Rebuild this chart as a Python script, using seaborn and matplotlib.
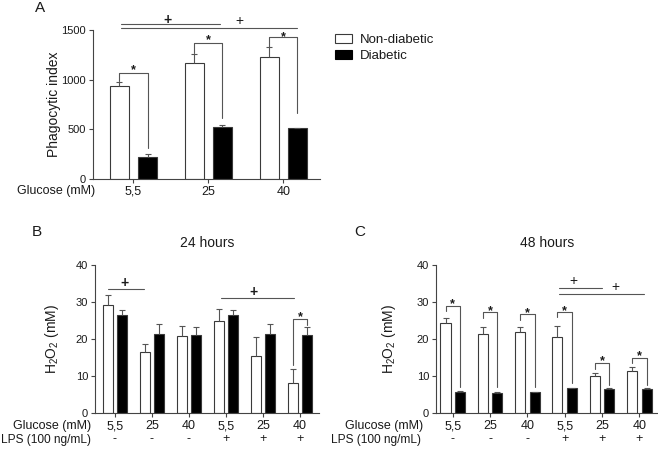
import matplotlib
matplotlib.use("Agg")
import matplotlib.pyplot as plt
import seaborn as sns
import pandas as pd
import numpy as np
from matplotlib.patches import Patch

sns.set_style("ticks")
plt.rcParams['font.family'] = ['Liberation Sans', 'DejaVu Sans']
plt.rcParams['mathtext.default'] = 'regular'

# --- data ---
groups = ["Non-diabetic", "Diabetic"]

# A: phagocytic index
glucose_a = ["5,5", "25", "40"]
phago_nd = [936, 1165, 1225]
phago_nd_err = [44, 93, 100]
phago_d = [225, 520, 516]
phago_d_err = [27, 20, 0]

# B / C: H2O2
glucose_bc = ["5,5", "25", "40", "5,5", "25", "40"]
lps = ["-", "-", "-", "+", "+", "+"]
h2o2_24_nd = [29.1, 16.6, 20.8, 24.9, 15.4, 8.3]
h2o2_24_nd_err = [2.9, 2.0, 2.8, 3.1, 5.3, 3.6]
h2o2_24_d = [26.4, 21.5, 21.2, 26.4, 21.5, 21.2]
h2o2_24_d_err = [1.5, 2.6, 2.0, 1.5, 2.6, 2.0]
h2o2_48_nd = [24.3, 21.5, 21.9, 20.5, 10.0, 11.4]
h2o2_48_nd_err = [1.5, 1.8, 1.4, 3.0, 0.8, 1.0]
h2o2_48_d = [5.8, 5.6, 5.65, 6.8, 6.6, 6.6]
h2o2_48_d_err = [0.15, 0.1, 0.1, 0.15, 0.1, 0.1]

TXT = "#1a1a1a"
LINE = "#555555"
EDGE = "#3a3a3a"

W, H = 658, 450
fig = plt.figure(figsize=(W / 100, H / 100), dpi=100)


def px_axes(left, top, right, bottom):
    return fig.add_axes([left / W, 1 - bottom / H, (right - left) / W, (bottom - top) / H])


def draw_bars(ax, nd, nd_err, d, d_err, width, gap):
    n = len(nd)
    df = pd.DataFrame({
        "pos": list(range(n)) * 2,
        "value": nd + d,
        "group": [groups[0]] * n + [groups[1]] * n,
    })
    sns.barplot(data=df, x="pos", y="value", hue="group", hue_order=groups,
                palette=["white", "black"], edgecolor=EDGE, linewidth=0.8,
                width=width, gap=gap, errorbar=None, legend=False, ax=ax)
    centers = []
    for cont, vals, errs in zip(ax.containers, [nd, d], [nd_err, d_err]):
        xs = [p.get_x() + p.get_width() / 2 for p in cont]
        eb = ax.errorbar(xs, vals, yerr=[np.zeros(n), errs], fmt="none",
                         ecolor=LINE, elinewidth=0.8, capsize=2.5, capthick=0.8)
        eb[1][0].set_visible(False)  # only the upper cap
        centers.append(xs)
    return centers


def bracket(ax, x1, x2, y_left, y_top, y_right, star_dy=0):
    ax.plot([x1, x1, x2, x2], [y_left, y_top, y_top, y_right],
            color=LINE, lw=0.8, clip_on=False)
    ax.annotate("*", xy=((x1 + x2) / 2, y_top), xytext=(0, star_dy),
                textcoords="offset points", ha="center", va="baseline",
                fontsize=9, fontweight="bold", color=TXT, annotation_clip=False)


def plus_line(ax, x1, x2, y_line, x_plus, y_plus, bold=False):
    ax.plot([x1, x2], [y_line, y_line], color=LINE, lw=0.8, clip_on=False)
    ax.text(x_plus, y_plus, "+", ha="center", va="center", fontsize=10,
            fontweight="bold" if bold else "normal", color=TXT, clip_on=False)


def style(ax):
    sns.despine(ax=ax)
    for s in ["left", "bottom"]:
        ax.spines[s].set_color("#444444")
        ax.spines[s].set_linewidth(0.8)
    ax.tick_params(axis="both", length=3, width=0.8, color="#444444",
                   labelcolor=TXT, pad=2)
    ax.set_xlabel("")


# ---------------- panel A ----------------
axA = px_axes(93, 30, 320, 179)
cA = draw_bars(axA, phago_nd, phago_nd_err, phago_d, phago_d_err, 0.75, 0.32)
axA.set_xlim(-0.54, 2.49)
axA.set_ylim(0, 1500)
axA.set_yticks([0, 500, 1000, 1500])
axA.set_xticks(range(3))
axA.set_xticklabels(glucose_a, fontsize=9)
axA.tick_params(axis="y", labelsize=8)
style(axA)
axA.set_ylabel("Phagocytic index", fontsize=10, color=TXT)
axA.yaxis.set_label_coords(-0.14, 0.5)

bracket(axA, cA[0][0], cA[1][0], 990, 1070, 310)
bracket(axA, cA[0][1], cA[1][1], 1270, 1366, 610)
bracket(axA, cA[0][2], cA[1][2], 1332, 1426, 665, star_dy=-2)
plus_line(axA, -0.17, 1.15, 1560, 0.45, 1600, bold=True)
plus_line(axA, -0.17, 2.18, 1517, 1.41, 1594)

fig.text(95 / W, 1 - 191 / H, "Glucose (mM)", ha="right", va="center",
         fontsize=9, color=TXT)
fig.text(40 / W, 1 - 8 / H, "A", ha="center", va="center", fontsize=11, color=TXT)

fig.legend(handles=[Patch(facecolor="white", edgecolor=EDGE, lw=0.8, label=groups[0]),
                    Patch(facecolor="black", edgecolor="black", lw=0.8, label=groups[1])],
           loc="upper left", bbox_to_anchor=(335 / W, 1 - 34 / H), frameon=False,
           fontsize=9.5, handlelength=1.3, handleheight=0.7, handletextpad=0.6,
           labelspacing=0.3, borderpad=0, borderaxespad=0, labelcolor=TXT)

# ---------------- panels B and C ----------------
bc_labels = [g + "\n" + l for g, l in zip(glucose_bc, lps)]


def h2o2_panel(left, right, xlim, nd, nd_err, d, d_err, title, letter, letter_x, row_x):
    ax = px_axes(left, 265, right, 413.3)
    c = draw_bars(ax, nd, nd_err, d, d_err, 0.78, 0.31)
    ax.set_xlim(*xlim)
    ax.set_ylim(0, 40)
    ax.set_yticks([0, 10, 20, 30, 40])
    ax.set_xticks(range(6))
    ax.set_xticklabels(bc_labels, fontsize=9, linespacing=1.05)
    ax.tick_params(axis="y", labelsize=8)
    style(ax)
    ax.set_ylabel("H$_2$O$_2$ (mM)", fontsize=10, color=TXT)
    ax.set_title(title, fontsize=10, color=TXT, pad=13)
    fig.text(row_x[0] / W, 1 - 426 / H, "Glucose (mM)", ha="right", va="center",
             fontsize=9, color=TXT)
    fig.text(row_x[1] / W, 1 - 439.5 / H, "LPS (100 ng/mL)", ha="right", va="center",
             fontsize=8.6, color=TXT)
    fig.text(letter_x / W, 1 - 232 / H, letter, ha="center", va="center",
             fontsize=11, color=TXT)
    return ax, c


axB, cB = h2o2_panel(95, 318.5, (-0.54, 5.5), h2o2_24_nd, h2o2_24_nd_err,
                     h2o2_24_d, h2o2_24_d_err, "24 hours", "B", 37, (91, 91))
axB.yaxis.set_label_coords(-0.15, 0.5)
plus_line(axB, -0.18, 0.78, 33.5, 0.25, 35.1, bold=True)
plus_line(axB, 2.86, 4.84, 31.0, 3.73, 32.7, bold=True)
bracket(axB, cB[0][5], cB[1][5], 13.1, 25.4, 23.9, star_dy=-1)

axC, cC = h2o2_panel(436, 658, (-0.45, 5.5), h2o2_48_nd, h2o2_48_nd_err,
                     h2o2_48_d, h2o2_48_d_err, "48 hours", "C", 360, (423, 421))
axC.yaxis.set_label_coords(-0.17, 0.5)
plus_line(axC, 2.86, 3.99, 33.9, 3.24, 35.8)
plus_line(axC, 2.86, 5.12, 32.2, 4.36, 34.1)
c48_left = [27.5, 25.7, 25.3, 25.9, 12.0, 13.7]
c48_top = [29.0, 27.2, 26.7, 27.2, 13.5, 15.0]
c48_right = [7.2, 7.2, 7.2, 8.1, 7.7, 7.7]
for i in range(6):
    bracket(axC, cC[0][i], cC[1][i], c48_left[i], c48_top[i], c48_right[i], star_dy=-1)

fig.savefig("out.png", dpi=100)
